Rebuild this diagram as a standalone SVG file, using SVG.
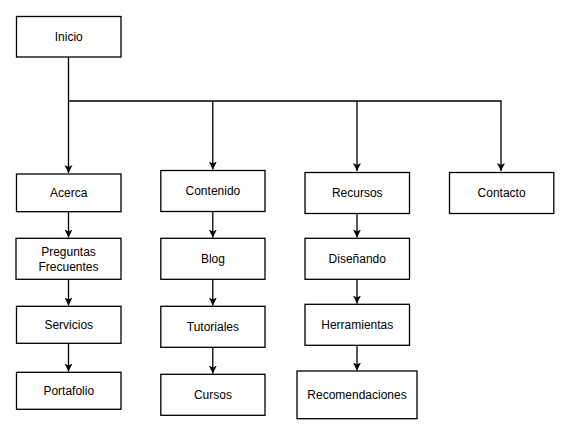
<svg xmlns="http://www.w3.org/2000/svg" width="573" height="437" viewBox="0 0 573 437">
<style>
.box{fill:#fff;stroke:#000;stroke-width:1.3}
.lbl{font-family:"Liberation Sans",Arial,sans-serif;font-size:12px;fill:#000;text-anchor:middle;dominant-baseline:central}
.edge{fill:none;stroke:#000;stroke-width:1.3}
</style>
<defs>
<marker id="arr" markerUnits="userSpaceOnUse" markerWidth="10" markerHeight="10" refX="8" refY="4" orient="auto" viewBox="0 0 10 8">
<path d="M0,0 L8,4 L0,8 L2,4 Z" fill="#000"/>
</marker>
</defs>
<rect width="573" height="437" fill="#fff"/>
<g id="connectors">
<path class="edge" d="M68.5,57 V101 H501 V171" marker-end="url(#arr)"/>
<path class="edge" d="M68.5,101 V173" marker-end="url(#arr)"/>
<path class="edge" d="M212.8,101 V169.5" marker-end="url(#arr)"/>
<path class="edge" d="M357,101 V171" marker-end="url(#arr)"/>
<path class="edge" d="M68.5,212 V237.5" marker-end="url(#arr)"/>
<path class="edge" d="M68.5,279.5 V305.5" marker-end="url(#arr)"/>
<path class="edge" d="M68.5,343.5 V371.5" marker-end="url(#arr)"/>
<path class="edge" d="M212.8,211.5 V237.5" marker-end="url(#arr)"/>
<path class="edge" d="M212.8,279.5 V305.5" marker-end="url(#arr)"/>
<path class="edge" d="M212.8,347.5 V373.5" marker-end="url(#arr)"/>
<path class="edge" d="M357,213.5 V237.5" marker-end="url(#arr)"/>
<path class="edge" d="M357,279.5 V303.5" marker-end="url(#arr)"/>
<path class="edge" d="M357,345.5 V370.5" marker-end="url(#arr)"/>
</g>
<g id="inicio"><rect class="box" x="16.5" y="16.5" width="104.5" height="40.5"/><text class="lbl" x="68.75" y="37">Inicio</text></g>
<g id="acerca"><rect class="box" x="16.5" y="174" width="104.5" height="37.7"/><text class="lbl" x="68.75" y="193">Acerca</text></g>
<g id="contenido"><rect class="box" x="160.8" y="170.5" width="104.2" height="41"/><text class="lbl" x="212.9" y="191">Contenido</text></g>
<g id="recursos"><rect class="box" x="305" y="172.5" width="104.5" height="41"/><text class="lbl" x="357.25" y="193">Recursos</text></g>
<g id="contacto"><rect class="box" x="449.5" y="172.5" width="104.3" height="41"/><text class="lbl" x="501.6" y="193">Contacto</text></g>
<g id="preguntas"><rect class="box" x="16" y="238.3" width="105" height="41"/><text class="lbl" x="68.5" y="252">Preguntas</text><text class="lbl" x="68.5" y="266.5">Frecuentes</text></g>
<g id="servicios"><rect class="box" x="16.5" y="306.3" width="104.5" height="37"/><text class="lbl" x="68.75" y="324.5">Servicios</text></g>
<g id="portafolio"><rect class="box" x="16.5" y="372.3" width="104.5" height="37"/><text class="lbl" x="68.75" y="390.5">Portafolio</text></g>
<g id="blog"><rect class="box" x="160.8" y="238.3" width="104.2" height="41"/><text class="lbl" x="212.9" y="259">Blog</text></g>
<g id="tutoriales"><rect class="box" x="160.8" y="306.3" width="104.2" height="41"/><text class="lbl" x="212.9" y="327">Tutoriales</text></g>
<g id="cursos"><rect class="box" x="160.8" y="374.3" width="104.2" height="41"/><text class="lbl" x="212.9" y="395">Cursos</text></g>
<g id="disenando"><rect class="box" x="305" y="238.3" width="104.5" height="41"/><text class="lbl" x="357.25" y="258.5">Diseñando</text></g>
<g id="herramientas"><rect class="box" x="305" y="304.3" width="104.5" height="41"/><text class="lbl" x="357.25" y="324.5">Herramientas</text></g>
<g id="recomendaciones"><rect class="box" x="297" y="371" width="120" height="47.7"/><text class="lbl" x="357" y="395">Recomendaciones</text></g>
</svg>
